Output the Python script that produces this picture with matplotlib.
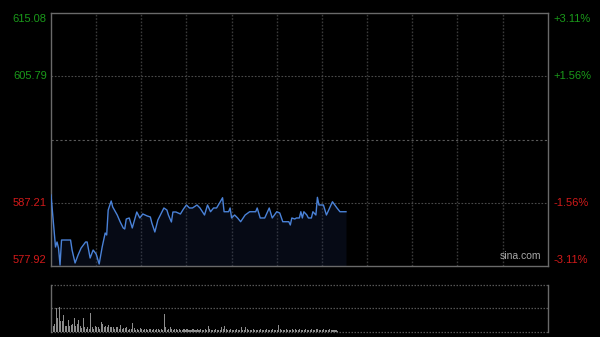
import matplotlib
matplotlib.use("Agg")
import matplotlib.pyplot as plt
import numpy as np

# ---- data ----
prev_close = 596.50
price_ticks = [577.92, 587.21, 605.79, 615.08]
price_labels = ["577.92", "587.21", "605.79", "615.08"]
pct_labels = ["-3.11%", "-1.56%", "+1.56%", "+3.11%"]
session_minutes = 330
grid_minutes = [30, 60, 90, 120, 150, 180, 210, 240, 270, 300]

minutes = [0, 3, 4, 5, 6, 7, 10, 13, 14, 16, 18, 20, 23, 24, 26, 28, 30, 32, 34,
           36, 37, 38, 40, 41, 44, 46, 48, 49, 50, 52, 54, 57, 59, 61, 64, 66, 67,
           69, 71, 75, 77, 78, 80, 81, 83, 86, 88, 90, 92, 94, 97, 99, 102, 104,
           106, 108, 110, 112, 114, 115, 118, 119, 120, 122, 124, 126, 129, 132,
           136, 137, 139, 142, 145, 147, 150, 152, 154, 158, 159, 160, 162, 163,
           165, 166, 167, 168, 170, 171, 173, 174, 176, 177, 178, 181, 183, 184,
           187, 190, 192, 196]
prices = [588.36, 580.71, 581.45, 580.56, 578.06, 581.74, 581.74, 581.74, 580.27,
          578.36, 579.54, 580.56, 581.45, 581.45, 579.09, 580.27, 579.68, 578.21,
          580.71, 582.77, 582.48, 586.15, 587.48, 586.60, 585.42, 584.39, 583.51,
          583.36, 584.83, 584.98, 583.51, 585.86, 584.98, 585.57, 585.27, 585.13,
          584.24, 582.92, 584.68, 586.45, 586.15, 585.42, 584.39, 585.86, 585.86,
          585.57, 586.30, 586.89, 586.45, 586.45, 586.89, 586.45, 585.42, 586.89,
          585.90, 586.45, 586.45, 587.18, 587.96, 585.90, 585.90, 586.45, 584.98,
          585.42, 584.98, 584.43, 585.42, 585.90, 585.90, 586.45, 584.98, 584.98,
          586.45, 584.98, 585.90, 585.71, 584.43, 584.43, 583.95, 584.98, 584.83,
          584.98, 584.98, 585.90, 584.98, 585.90, 585.42, 584.98, 584.98, 585.90,
          585.42, 588.02, 586.89, 586.89, 585.42, 585.90, 587.37, 586.45, 585.90,
          585.90]

volumes = [470, 60, 80, 237, 140, 247, 113, 113, 170, 57, 60, 120, 57, 70, 77, 140,
           57, 80, 120, 57, 40, 137, 47, 30, 47, 30, 187, 47, 30, 63, 47, 47, 30, 97,
           80, 47, 63, 47, 73, 50, 47, 50, 30, 47, 50, 25, 73, 30, 37, 40, 47, 20, 30,
           25, 87, 37, 20, 30, 20, 35, 25, 20, 30, 25, 20, 25, 30, 20, 25, 20, 25, 30,
           20, 25, 20, 177, 47, 20, 30, 53, 25, 20, 30, 30, 20, 25, 15, 20, 30, 18,
           25, 20, 15, 22, 28, 20, 18, 25, 20, 30, 22, 18, 25, 20, 63, 25, 20, 18, 22,
           25, 20, 18, 22, 53, 25, 63, 30, 20, 18, 25, 22, 20, 18, 25, 20, 22, 47, 20,
           18, 53, 25, 20, 18, 22, 25, 20, 18, 22, 20, 25, 18, 20, 22, 25, 20, 18, 22,
           25, 20, 18, 22, 70, 25, 20, 18, 22, 25, 20, 18, 22, 25, 20, 30, 22, 18, 25,
           20, 22, 18, 25, 20, 22, 18, 25, 20, 22, 30, 25, 20, 18, 22, 25, 20, 18, 22,
           25, 20, 18, 22, 15, 12]

# ---- style ----
BG = "#000000"
GRID = "#3a3a3a"
FRAME = "#6a6a6a"
GREEN = "#1a9a1a"
RED = "#d21a1a"
LINE = "#4a82d8"

fig = plt.figure(figsize=(6.0, 3.37), dpi=100, facecolor=BG)
plt.rcParams["font.family"] = ["Liberation Sans", "DejaVu Sans"]

ax = fig.add_axes([0.085, 0.2107, 0.8278, 0.7498], facecolor=BG)
ax.set_xlim(0, session_minutes)
ax.set_ylim(price_ticks[0], price_ticks[-1])

for m in grid_minutes:
    ax.axvline(m, color=GRID, lw=1.0, ls=(0, (1.2, 1.2)), zorder=1)
for p in (price_ticks[1], price_ticks[2]):
    ax.axhline(p, color="#4a4a4a", lw=0.8, ls=(0, (1.5, 1.5)), zorder=1)
ax.axhline(prev_close, color="#5a5a5a", lw=0.8, ls=(0, (2, 2)), zorder=1)

ax.fill_between(minutes, prices, price_ticks[0], color="#1a2a55", alpha=0.25, lw=0, zorder=2)
ax.plot(minutes, prices, color=LINE, lw=1.0, zorder=3)

for s in ax.spines.values():
    s.set_color(FRAME)
    s.set_linewidth(1.0)
ax.set_xticks([])
ax.set_yticks([])

# left / right labels
trans_y = ax.get_yaxis_transform()
offsets = [4, 0, 0, -4]
for i, (p, lab, pct) in enumerate(zip(price_ticks, price_labels, pct_labels)):
    col = GREEN if p > prev_close else RED
    ax.annotate(lab, xy=(0, p), xycoords=trans_y, xytext=(-3, offsets[i]),
                textcoords="offset points", ha="right", va="center",
                color=col, fontsize=8)
    ax.annotate(pct, xy=(1, p), xycoords=trans_y, xytext=(4, offsets[i]),
                textcoords="offset points", ha="left", va="center",
                color=col, fontsize=8)

ax.text(0.986, 0.018, "sina.com", transform=ax.transAxes, ha="right", va="bottom",
        color="#a8a8a8", fontsize=7.5, zorder=4)

# volume panel
vax = fig.add_axes([0.085, 0.01484, 0.8278, 0.1395], facecolor=BG)
vax.set_xlim(0, session_minutes)
vmax = max(volumes)
vax.set_ylim(0, vmax)
vax.bar(range(len(volumes)), volumes, width=0.7, align="edge", color="#8c8c8c", lw=0)
for yv in (vmax, vmax / 2, 0):
    vax.axhline(yv, color="#555555", lw=0.9, ls=(0, (1.2, 1.2)), clip_on=False)
for side in ("top", "bottom"):
    vax.spines[side].set_visible(False)
for side in ("left", "right"):
    vax.spines[side].set_color(FRAME)
    vax.spines[side].set_linewidth(1.0)
vax.set_xticks([])
vax.set_yticks([])

fig.savefig("out.png", dpi=100, facecolor=BG)
